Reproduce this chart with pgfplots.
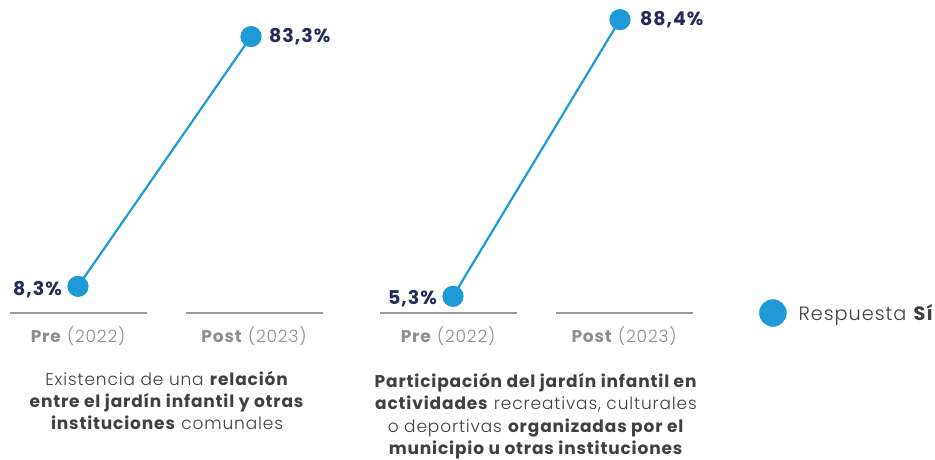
\documentclass[border=0pt]{standalone}
\usepackage{pgfplots}
\pgfplotsset{compat=1.18}
\usepackage{fontspec}
\setmainfont{Poppins}[LetterSpace=5]
\newfontfamily\light{Poppins Light}[LetterSpace=5]
\definecolor{myblue}{HTML}{1E9BD7}
\definecolor{navy}{HTML}{272B5C}
\definecolor{lgray}{HTML}{9A9A9A}
\definecolor{tgray}{HTML}{8E8E8E}
\definecolor{tdark}{HTML}{404040}
\begin{document}
\begin{tikzpicture}
\begin{axis}[scale only axis, width=935pt, height=459pt,
  xmin=0, xmax=935, ymin=-43.54, ymax=94.29, hide axis, clip=false,
  legend style={at={(axis cs:759,0.3)}, anchor=west, draw=none, fill=none,
    font=\fontsize{19.3}{22}\selectfont\color{tdark}, inner sep=0pt,
    /tikz/every odd column/.style={column sep=10pt}},
  legend image code/.code={\fill[myblue] (13.5pt,0pt) circle (13.5pt);},
]
% baselines
\addplot[lgray, line width=2.2pt, forget plot] coordinates {(10,0.3) (147,0.3)};
\addplot[lgray, line width=2.2pt, forget plot] coordinates {(186,0.3) (323,0.3)};
\addplot[lgray, line width=2.2pt, forget plot] coordinates {(380,0.3) (517,0.3)};
\addplot[lgray, line width=2.2pt, forget plot] coordinates {(556,0.3) (693,0.3)};
% data
\addplot[myblue, line width=2.2pt, mark=*, mark size=9.5pt, mark options={fill=myblue, draw=myblue}, forget plot]
  coordinates {(78,8.3) (251,83.3)};
\addplot[myblue, line width=2.2pt, mark=*, mark size=9.5pt, mark options={fill=myblue, draw=myblue}, forget plot]
  coordinates {(453,5.3) (620,88.4)};
\addlegendimage{myblue}
\addlegendentry{\light Respuesta \textbf{\normalfont\bfseries Sí}}
% value labels
\begin{scope}[every node/.style={font=\fontsize{19}{22}\selectfont\bfseries, text=navy, inner sep=0pt}]
\node[anchor=west] at (axis cs:269,83.3) {83,3\%};
\node[anchor=west] at (axis cs:640,88.4) {88,4\%};
\node[anchor=east] at (axis cs:62,7.4) {8,3\%};
\node[anchor=east] at (axis cs:437,4.5) {5,3\%};
\end{scope}
% category labels
\begin{scope}[every node/.style={font=\fontsize{17}{20}\selectfont, text=tgray, inner sep=0pt}]
\node at (axis cs:78,-6.6) {\textbf{Pre} {\light (2022)}};
\node at (axis cs:254,-6.6) {\textbf{Post} {\light (2023)}};
\node at (axis cs:448,-6.6) {\textbf{Pre} {\light (2022)}};
\node at (axis cs:624,-6.6) {\textbf{Post} {\light (2023)}};
\end{scope}
% descriptions
\node[anchor=north, align=center, inner sep=0pt, text=tdark, font=\fontsize{17}{22}\selectfont] at (axis cs:167,-17.2)
 {{\light Existencia de una} \textbf{relación}\\ \textbf{entre el jardín infantil y otras}\\ \textbf{instituciones} {\light comunales}};
\node[anchor=north, align=center, inner sep=0pt, text=tdark, font=\fontsize{17}{22.3}\selectfont] at (axis cs:536,-17.8)
 {\textbf{Participación del jardín infantil en}\\ \textbf{actividades} {\light recreativas, culturales}\\ {\light o deportivas} \textbf{organizadas por el}\\ \textbf{municipio u otras instituciones}};
\end{axis}
\pgfresetboundingbox
\useasboundingbox (current axis.south west) rectangle (current axis.north east);
\end{tikzpicture}
\end{document}
